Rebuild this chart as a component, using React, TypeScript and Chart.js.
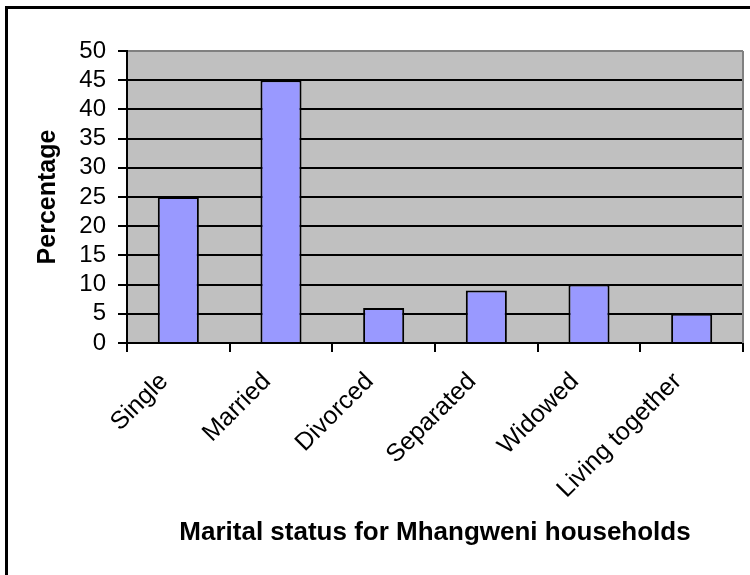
import React, { useEffect, useRef } from "react";
import { Chart, registerables } from "chart.js";

Chart.register(...registerables);

const categories = ["Single", "Married", "Divorced", "Separated", "Widowed", "Living together"];
const percentages = [25, 45, 6, 9, 10, 5];
const yTitle = "Percentage";
const xTitle = "Marital status for Mhangweni households";

const FONT = "Arial, 'Liberation Sans', sans-serif";

const framePlugin = {
  id: "frame",
  beforeDraw(chart: any) {
    const { ctx, width, height, chartArea } = chart;
    ctx.save();
    ctx.fillStyle = "#ffffff";
    ctx.fillRect(0, 0, width, height);
    ctx.strokeStyle = "#000000";
    ctx.lineWidth = 3;
    ctx.beginPath();
    ctx.moveTo(6.5, height + 5);
    ctx.lineTo(6.5, 7.5);
    ctx.lineTo(width + 5, 7.5);
    ctx.stroke();
    ctx.fillStyle = "#C0C0C0";
    ctx.fillRect(chartArea.left, chartArea.top, chartArea.right - chartArea.left, chartArea.bottom - chartArea.top);
    ctx.restore();
  },
  beforeDatasetsDraw(chart: any) {
    const { ctx, chartArea } = chart;
    ctx.save();
    ctx.strokeStyle = "#808080";
    ctx.lineWidth = 2;
    ctx.beginPath();
    ctx.moveTo(chartArea.right, chartArea.top);
    ctx.lineTo(chartArea.right, chartArea.bottom);
    ctx.stroke();
    ctx.restore();
  },
};

export default function App() {
  const ref = useRef<HTMLCanvasElement>(null);
  useEffect(() => {
    if (!ref.current) return;
    const chart = new Chart(ref.current, {
      type: "bar",
      data: {
        labels: categories,
        datasets: [
          {
            data: percentages,
            backgroundColor: "#9999FF",
            borderColor: "#000000",
            borderWidth: 2,
            barPercentage: 0.4,
            categoryPercentage: 1,
          },
        ],
      },
      options: {
        responsive: false,
        animation: false,
        layout: { padding: { top: 51, right: 7, left: 8, bottom: 0 } },
        plugins: { legend: { display: false }, tooltip: { enabled: false } },
        scales: {
          x: {
            afterFit(scale: any) {
              scale.height = 575 - 343;
            },
            grid: {
              offset: true,
              drawOnChartArea: false,
              tickLength: 9,
              color: "#000000",
              lineWidth: 2,
            },
            border: { display: true, color: "#000000", width: 2 },
            ticks: {
              autoSkip: false,
              minRotation: 45,
              maxRotation: 45,
              color: "#000000",
              padding: 15,
              labelOffset: -14,
              font: { family: FONT, size: 25 },
            },
            title: {
              display: true,
              text: xTitle,
              color: "#000000",
              font: { family: FONT, size: 26, weight: "bold" },
              padding: { top: 0, bottom: 27 },
            },
          },
          y: {
            min: 0,
            max: 50,
            afterFit(scale: any) {
              scale.width = 127 - 8;
            },
            grid: {
              color: (c: any) => (c.tick && c.tick.value === 50 ? "#808080" : "#000000"),
              tickColor: "#000000",
              lineWidth: 2,
              tickLength: 9,
            },
            border: { display: true, color: "#000000", width: 2 },
            ticks: {
              autoSkip: false,
              stepSize: 5,
              color: "#000000",
              padding: 12,
              font: { family: FONT, size: 24, lineHeight: 1 },
            },
            title: {
              display: true,
              text: yTitle,
              color: "#000000",
              font: { family: FONT, size: 25, weight: "bold" },
              padding: { top: 25, bottom: 0 },
            },
          },
        },
      },
      plugins: [framePlugin],
    });
    return () => chart.destroy();
  }, []);
  return (
    <div style={{ position: "absolute", left: 0, top: 0, width: 750, height: 575, background: "#fff" }}>
      <canvas ref={ref} width={750} height={575} />
    </div>
  );
}
